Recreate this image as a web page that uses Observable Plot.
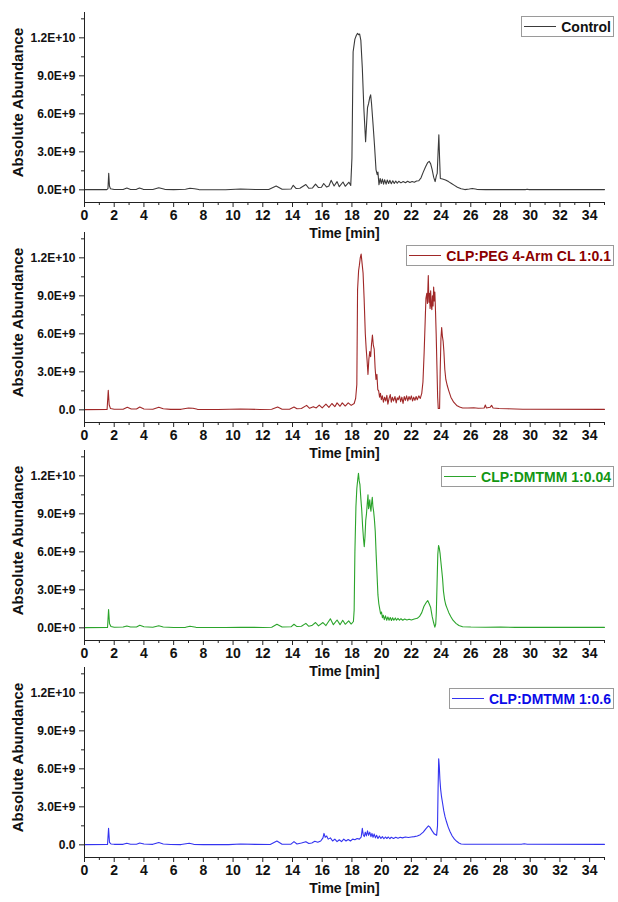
<!DOCTYPE html>
<html>
<head>
<meta charset="utf-8">
<script src="https://cdn.jsdelivr.net/npm/d3@7"></script>
<script src="https://cdn.jsdelivr.net/npm/@observablehq/plot@0.6"></script>
<style>
  html, body { margin: 0; padding: 0; background: #fff; }
  #chart { position: relative; width: 618px; height: 902px; font-family: "Liberation Sans", Arial, sans-serif; }
  #chart svg { position: absolute; left: 0; }
  .legend { position: absolute; right: 4px; height: 19px; border: 1px solid #9a9a9a; background: #fff;
            display: flex; align-items: center; padding: 0 2px 0 2px; font-weight: bold; font-size: 14px; white-space: nowrap; }
  .legend .sw { display: inline-block; width: 32px; height: 0; border-top: 1px solid; margin-right: 5px; }
</style>
</head>
<body>
<div id="chart"></div>
<script>
// ---- data (time in min, abundance in units of 1E+9) ----
const seriesNames = ["Control", "CLP:PEG 4-Arm CL 1:0.1", "CLP:DMTMM 1:0.04", "CLP:DMTMM 1:0.6"];

const controlData = [[0,0.02],[1.5,0.02],[1.58,0.1],[1.63,1.3],[1.68,0.3],[1.75,0.08],[2.0,0.03],[2.6,0.03],[2.85,0.14],[3.1,0.03],[3.5,0.04],[3.7,0.15],[3.95,0.04],[4.6,0.03],[5.0,0.17],[5.4,0.04],[6.0,0.02],[6.8,0.05],[7.1,0.12],[7.4,0.08],[7.7,0.02],[9.5,0.01],[10.5,0.06],[11.5,0.03],[12.4,0.03],[12.9,0.3],[13.3,0.05],[13.9,0.06],[14.05,0.36],[14.25,0.1],[14.5,0.12],[14.9,0.42],[15.1,0.12],[15.35,0.15],[15.55,0.45],[15.75,0.18],[15.95,0.2],[16.1,0.5],[16.3,0.22],[16.45,0.3],[16.6,0.75],[16.8,0.3],[17.0,0.65],[17.15,0.25],[17.4,0.62],[17.55,0.28],[17.8,0.6],[17.92,0.35],[18.0,2.5],[18.08,10.9],[18.2,11.9],[18.3,12.2],[18.38,12.35],[18.45,12.25],[18.52,12.3],[18.6,11.8],[18.7,9.6],[18.8,6.5],[18.92,3.8],[19.0,5.5],[19.05,6.5],[19.12,6.8],[19.2,7.3],[19.26,7.5],[19.32,6.8],[19.42,5.2],[19.52,3.5],[19.62,1.6],[19.7,1.2],[19.75,1.4],[19.82,0.4],[19.9,0.9],[19.97,0.5],[20.05,0.85],[20.13,0.45],[20.2,0.8],[20.3,0.45],[20.38,0.78],[20.47,0.5],[20.55,0.75],[20.65,0.48],[20.75,0.72],[20.85,0.5],[20.95,0.7],[21.05,0.52],[21.15,0.68],[21.3,0.55],[21.45,0.65],[21.6,0.56],[21.75,0.68],[21.9,0.58],[22.05,0.66],[22.2,0.6],[22.35,0.7],[22.5,0.72],[22.65,0.95],[22.8,1.4],[22.95,1.8],[23.1,2.15],[23.2,2.25],[23.3,2.05],[23.4,1.6],[23.5,1.0],[23.6,0.65],[23.68,1.1],[23.74,1.3],[23.8,3.0],[23.85,4.35],[23.9,2.5],[23.95,0.9],[24.1,0.85],[24.3,0.78],[24.5,0.65],[24.7,0.5],[24.9,0.35],[25.1,0.2],[25.35,0.08],[25.6,0.02],[25.9,0.06],[26.1,0.1],[26.4,0.04],[27.0,0.02],[29.7,0.02],[29.8,0.05],[29.9,0.02],[35,0.02]];

const pegData = [[0,0.02],[1.52,0.03],[1.6,1.55],[1.66,0.4],[1.75,0.1],[2.0,0.05],[2.6,0.05],[2.88,0.2],[3.15,0.06],[3.5,0.06],[3.72,0.22],[4.0,0.07],[4.6,0.05],[5.0,0.2],[5.3,0.08],[5.8,0.04],[6.5,0.04],[7.0,0.15],[7.3,0.12],[7.6,0.04],[9.0,0.03],[10.5,0.07],[11.8,0.03],[12.6,0.05],[13.0,0.22],[13.3,0.05],[13.8,0.05],[14.1,0.22],[14.3,0.08],[14.6,0.1],[14.95,0.35],[15.15,0.12],[15.4,0.25],[15.6,0.15],[15.8,0.38],[16.0,0.15],[16.25,0.45],[16.45,0.2],[16.65,0.5],[16.85,0.25],[17.0,0.55],[17.2,0.28],[17.35,0.55],[17.55,0.3],[17.75,0.55],[17.95,0.35],[18.15,0.5],[18.25,0.9],[18.33,2.0],[18.38,9.5],[18.45,11.0],[18.5,11.4],[18.56,12.0],[18.62,12.3],[18.68,11.6],[18.75,10.8],[18.82,8.8],[18.9,6.0],[18.96,4.8],[19.02,3.9],[19.08,2.8],[19.14,4.0],[19.2,4.6],[19.26,4.2],[19.32,5.2],[19.38,5.9],[19.44,5.1],[19.5,4.8],[19.56,3.3],[19.62,2.4],[19.68,2.8],[19.74,1.6],[19.8,1.5],[19.86,1.0],[19.92,1.3],[19.98,0.8],[20.05,1.1],[20.12,0.6],[20.2,1.0],[20.28,0.7],[20.35,1.15],[20.42,0.45],[20.5,0.9],[20.58,1.2],[20.65,0.6],[20.72,1.0],[20.8,0.7],[20.9,1.05],[20.98,0.55],[21.05,0.95],[21.12,0.8],[21.2,1.1],[21.28,0.65],[21.36,1.0],[21.44,0.5],[21.52,1.05],[21.6,0.75],[21.68,1.1],[21.76,0.7],[21.84,1.05],[21.92,0.8],[22.0,1.1],[22.08,0.7],[22.16,1.0],[22.24,0.75],[22.32,1.05],[22.4,0.8],[22.5,1.1],[22.6,0.9],[22.7,1.3],[22.78,2.2],[22.86,4.5],[22.93,7.0],[22.98,8.8],[23.04,9.2],[23.08,8.4],[23.14,10.6],[23.18,8.5],[23.22,9.2],[23.26,8.0],[23.3,9.4],[23.34,8.2],[23.38,7.9],[23.42,9.0],[23.46,8.2],[23.5,9.7],[23.54,8.6],[23.58,9.3],[23.62,8.0],[23.67,6.0],[23.72,3.5],[23.77,1.0],[23.81,0.1],[23.9,0.1],[23.94,3.0],[23.99,5.6],[24.04,6.5],[24.09,5.8],[24.14,5.4],[24.19,4.6],[24.25,3.2],[24.32,2.4],[24.42,1.9],[24.52,1.5],[24.66,1.0],[24.85,0.6],[25.05,0.35],[25.25,0.22],[25.45,0.15],[25.8,0.14],[26.2,0.16],[26.5,0.12],[26.9,0.15],[26.98,0.38],[27.05,0.15],[27.3,0.2],[27.4,0.35],[27.5,0.15],[27.9,0.1],[28.5,0.08],[29.5,0.05],[30,0.05],[35,0.04]];

const dmtmm004Data = [[0,0.02],[1.55,0.03],[1.62,1.45],[1.68,0.35],[1.78,0.1],[2.0,0.05],[2.6,0.06],[2.85,0.15],[3.1,0.06],[3.5,0.07],[3.72,0.2],[4.0,0.08],[4.6,0.05],[5.0,0.17],[5.3,0.06],[6.0,0.03],[6.8,0.04],[7.1,0.13],[7.5,0.04],[9.5,0.03],[10.5,0.05],[12.0,0.03],[12.6,0.05],[12.95,0.28],[13.3,0.06],[13.9,0.08],[14.1,0.28],[14.3,0.1],[14.6,0.12],[14.9,0.35],[15.1,0.12],[15.3,0.18],[15.55,0.42],[15.75,0.15],[16.05,0.42],[16.25,0.18],[16.55,0.72],[16.75,0.25],[17.0,0.62],[17.2,0.25],[17.38,0.6],[17.55,0.28],[17.78,0.55],[17.95,0.3],[18.1,0.5],[18.15,1.4],[18.2,6.0],[18.27,9.6],[18.33,11.0],[18.39,11.7],[18.44,12.2],[18.49,11.6],[18.54,11.3],[18.6,10.2],[18.66,9.3],[18.72,8.0],[18.78,7.0],[18.83,6.4],[18.88,7.2],[18.93,8.5],[18.98,9.0],[19.03,9.8],[19.08,10.5],[19.12,9.4],[19.16,9.7],[19.2,10.1],[19.24,9.5],[19.28,9.2],[19.32,9.8],[19.37,10.3],[19.41,9.6],[19.46,9.2],[19.51,8.6],[19.57,7.6],[19.63,5.8],[19.69,4.2],[19.75,2.6],[19.81,1.9],[19.87,1.5],[19.93,1.1],[19.99,1.25],[20.05,0.8],[20.11,1.0],[20.18,0.65],[20.26,0.95],[20.34,0.6],[20.42,0.85],[20.5,0.6],[20.58,0.82],[20.66,0.58],[20.74,0.8],[20.82,0.6],[20.92,0.78],[21.0,0.6],[21.1,0.75],[21.2,0.6],[21.3,0.72],[21.42,0.6],[21.55,0.7],[21.7,0.62],[21.85,0.68],[22.0,0.62],[22.2,0.7],[22.4,0.75],[22.55,0.9],[22.7,1.2],[22.85,1.7],[23.0,2.0],[23.1,2.15],[23.2,1.9],[23.3,1.6],[23.4,0.9],[23.5,0.4],[23.58,0.05],[23.64,0.3],[23.68,1.2],[23.73,3.5],[23.78,5.8],[23.83,6.5],[23.88,6.3],[23.93,5.9],[23.98,5.3],[24.04,4.6],[24.1,3.9],[24.16,2.9],[24.24,2.2],[24.32,1.8],[24.42,1.5],[24.52,1.2],[24.65,0.9],[24.8,0.6],[25.0,0.35],[25.2,0.18],[25.45,0.08],[26.0,0.06],[27.0,0.05],[28.0,0.06],[29.0,0.04],[30,0.04],[35,0.04]];

const dmtmm06Data = [[0,0.02],[1.55,0.03],[1.62,1.3],[1.68,0.2],[1.78,0.07],[2.0,0.04],[2.6,0.04],[2.85,0.13],[3.1,0.05],[3.5,0.05],[3.72,0.15],[4.0,0.06],[4.6,0.04],[5.0,0.18],[5.3,0.07],[5.8,0.03],[6.5,0.02],[7.05,0.12],[7.35,0.04],[8.0,0.02],[9.7,0.02],[10.5,0.06],[11.5,0.04],[12.5,0.03],[12.95,0.3],[13.3,0.05],[13.9,0.05],[14.1,0.25],[14.3,0.07],[14.6,0.15],[14.9,0.25],[15.1,0.1],[15.3,0.15],[15.5,0.28],[15.7,0.2],[15.9,0.3],[16.05,0.55],[16.12,0.9],[16.2,0.6],[16.3,0.7],[16.4,0.45],[16.55,0.55],[16.7,0.3],[16.85,0.45],[17.0,0.25],[17.15,0.4],[17.3,0.25],[17.45,0.45],[17.6,0.3],[17.75,0.42],[17.9,0.3],[18.05,0.45],[18.2,0.4],[18.35,0.5],[18.5,0.45],[18.62,0.6],[18.7,1.3],[18.76,0.8],[18.83,0.65],[18.9,1.0],[18.97,0.7],[19.05,1.1],[19.12,0.75],[19.2,1.0],[19.28,0.65],[19.35,0.9],[19.42,0.6],[19.5,0.85],[19.58,0.55],[19.66,0.75],[19.75,0.5],[19.85,0.7],[19.95,0.5],[20.05,0.65],[20.15,0.48],[20.25,0.62],[20.35,0.5],[20.45,0.62],[20.55,0.48],[20.65,0.6],[20.8,0.5],[20.95,0.6],[21.1,0.52],[21.25,0.6],[21.4,0.55],[21.6,0.62],[21.8,0.58],[22.0,0.62],[22.2,0.65],[22.4,0.7],[22.6,0.8],[22.8,1.0],[23.0,1.3],[23.15,1.5],[23.25,1.4],[23.4,1.1],[23.55,0.85],[23.7,0.75],[23.76,1.5],[23.8,4.5],[23.84,6.8],[23.88,6.2],[23.92,5.2],[23.97,4.4],[24.03,3.8],[24.1,3.3],[24.18,2.7],[24.27,2.2],[24.37,1.8],[24.48,1.4],[24.6,1.05],[24.75,0.7],[24.9,0.45],[25.05,0.28],[25.2,0.15],[25.35,0.07],[25.6,0.05],[27,0.05],[29.4,0.05],[29.6,0.08],[29.8,0.05],[35,0.04]];

// ---- ticks & labels ----
const xTickValues = [0,2,4,6,8,10,12,14,16,18,20,22,24,26,28,30,32,34];
const xMinorTicks = [1,3,5,7,9,11,13,15,17,19,21,23,25,27,29,31,33,35];
const yTickValues = [0,3,6,9,12];
const yTickLabels = ["0.0E+0","3.0E+9","6.0E+9","9.0E+9","1.2E+10"];
const zeroTickLabels = ["0.0E+0","0.0","0.0E+0","0.0"];
const yMinorTicks = [1.5,4.5,7.5,10.5,13.5];
const xLabel = "Time [min]";
const yLabel = "Absolute Abundance";

// ---- styling ----
const lineColors = ["#3a3a3a","#a02828","#2ba42b","#3434f0"];
const legendTextColors = ["#111111","#8b0000","#139613","#0b0be8"];
const svgTops = [0, 220, 438, 655];
const legendTops = [16, 245, 466, 688];

const allSeries = [controlData, pegData, dmtmm004Data, dmtmm06Data];
const chart = document.getElementById("chart");

allSeries.forEach((data, i) => {
  const fmt = new Map(yTickValues.map((v, k) => [v, k === 0 ? zeroTickLabels[i] : yTickLabels[k]]));
  const svg = Plot.plot({
    width: 618,
    height: 250,
    marginLeft: 84,
    marginRight: 14,
    marginTop: 12,
    marginBottom: 48,
    style: {background: "transparent", overflow: "visible", fontFamily: "'Liberation Sans', Arial, sans-serif", color: "#222"},
    x: {domain: [0, 35]},
    y: {domain: [-1, 14]},
    marks: [
      Plot.line(data, {x: d => d[0], y: d => d[1], stroke: lineColors[i], strokeWidth: 1.1}),
      Plot.ruleX([0], {stroke: "#222"}),
      Plot.ruleY([-1], {stroke: "#222"}),
      Plot.axisX({ticks: xTickValues, tickSize: 5, tickPadding: 3, fontSize: 14, fontWeight: "bold", fill: "#111", label: null, tickFormat: d => String(d)}),
      Plot.axisX({ticks: xMinorTicks, tickSize: 3, tickFormat: () => "", label: null}),
      Plot.axisY({ticks: yTickValues, tickSize: 5, tickPadding: 4, fontSize: 12, fontWeight: "bold", fill: "#111", label: null, tickFormat: d => fmt.get(d)}),
      Plot.axisY({ticks: yMinorTicks, tickSize: 3, tickFormat: () => "", label: null}),
      Plot.text([xLabel], {frameAnchor: "bottom", dy: 35, fontSize: 14, fontWeight: "bold", fill: "#111"}),
      Plot.text([yLabel], {frameAnchor: "left", textAnchor: "middle", dx: -66, dy: -5, rotate: -90, fontSize: 15, fontWeight: "bold", fill: "#111"})
    ]
  });
  svg.style.top = svgTops[i] + "px";
  chart.appendChild(svg);

  const lg = document.createElement("div");
  lg.className = "legend";
  lg.style.top = legendTops[i] + "px";
  lg.style.color = legendTextColors[i];
  const sw = document.createElement("span");
  sw.className = "sw";
  sw.style.borderTopColor = lineColors[i];
  lg.appendChild(sw);
  lg.appendChild(document.createTextNode(seriesNames[i]));
  chart.appendChild(lg);
});
</script>
</body>
</html>
